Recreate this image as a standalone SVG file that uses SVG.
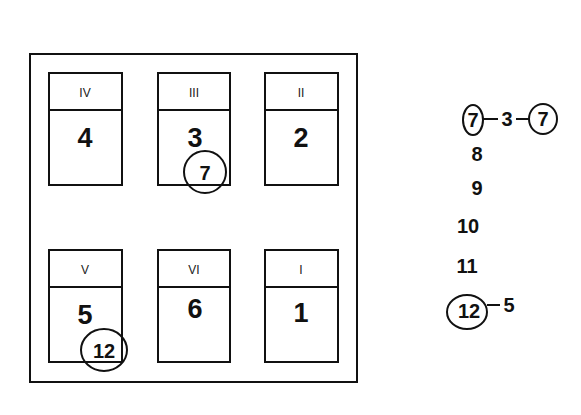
<svg xmlns="http://www.w3.org/2000/svg" width="581" height="415" viewBox="0 0 581 415">
<style>
.b{fill:#fff;stroke:#111;stroke-width:2}
.l{fill:none;stroke:#111;stroke-width:2}
.r{font-family:"Liberation Sans",Arial,sans-serif;font-size:12px;fill:#222;text-anchor:middle}
.n{font-family:"Liberation Sans",Arial,sans-serif;font-size:27px;font-weight:bold;fill:#111;text-anchor:middle}
.s{font-family:"Liberation Sans",Arial,sans-serif;font-size:20px;font-weight:bold;fill:#111;text-anchor:middle}
.c{fill:none;stroke:#111;stroke-width:2}
</style>
<rect width="581" height="415" fill="#fff"/>
<rect x="30" y="54" width="327" height="328" class="l"/>
<g id="IV"><rect x="49" y="73" width="73" height="112" class="b"/><line x1="49" y1="110" x2="122" y2="110" class="l"/><text x="85" y="97" class="r">IV</text><text x="85" y="147" class="n">4</text></g>
<g id="III"><rect x="158" y="73" width="72" height="112" class="b"/><line x1="158" y1="110" x2="230" y2="110" class="l"/><text x="194" y="97" class="r">III</text><text x="195" y="147" class="n">3</text></g>
<g id="II"><rect x="265" y="73" width="73" height="112" class="b"/><line x1="265" y1="110" x2="338" y2="110" class="l"/><text x="301" y="97" class="r">II</text><text x="301" y="147" class="n">2</text></g>
<g id="V"><rect x="49" y="250" width="73" height="112" class="b"/><line x1="49" y1="287" x2="122" y2="287" class="l"/><text x="85" y="274" class="r">V</text><text x="85" y="324" class="n">5</text></g>
<g id="VI"><rect x="158" y="250" width="72" height="112" class="b"/><line x1="158" y1="287" x2="230" y2="287" class="l"/><text x="194" y="274" class="r">VI</text><text x="195" y="318" class="n">6</text></g>
<g id="I"><rect x="265" y="250" width="73" height="112" class="b"/><line x1="265" y1="287" x2="338" y2="287" class="l"/><text x="301" y="274" class="r">I</text><text x="301" y="322" class="n">1</text></g>
<g id="mark7"><ellipse cx="205" cy="172" rx="21" ry="21" class="c"/><text x="205" y="180" class="s">7</text></g>
<g id="mark12"><ellipse cx="104" cy="350" rx="23" ry="21" class="c"/><text x="104" y="358" class="s">12</text></g>
<g id="list">
<ellipse cx="473" cy="120" rx="10" ry="15" class="c"/><text x="473" y="127" class="s">7</text>
<line x1="483" y1="119" x2="498" y2="119" class="l"/>
<text x="507" y="126" class="s">3</text>
<line x1="516" y1="119" x2="529" y2="119" class="l"/>
<ellipse cx="543" cy="119" rx="14" ry="15" class="c"/><text x="543" y="126" class="s">7</text>
<text x="477" y="161" class="s">8</text>
<text x="477" y="195" class="s">9</text>
<text x="468" y="233" class="s">10</text>
<text x="467" y="273" class="s">11</text>
<ellipse cx="467" cy="312" rx="20" ry="17" class="c"/><text x="469" y="318" class="s">12</text>
<line x1="487" y1="305" x2="500" y2="305" class="l"/>
<text x="509" y="312" class="s">5</text>
</g>
</svg>
